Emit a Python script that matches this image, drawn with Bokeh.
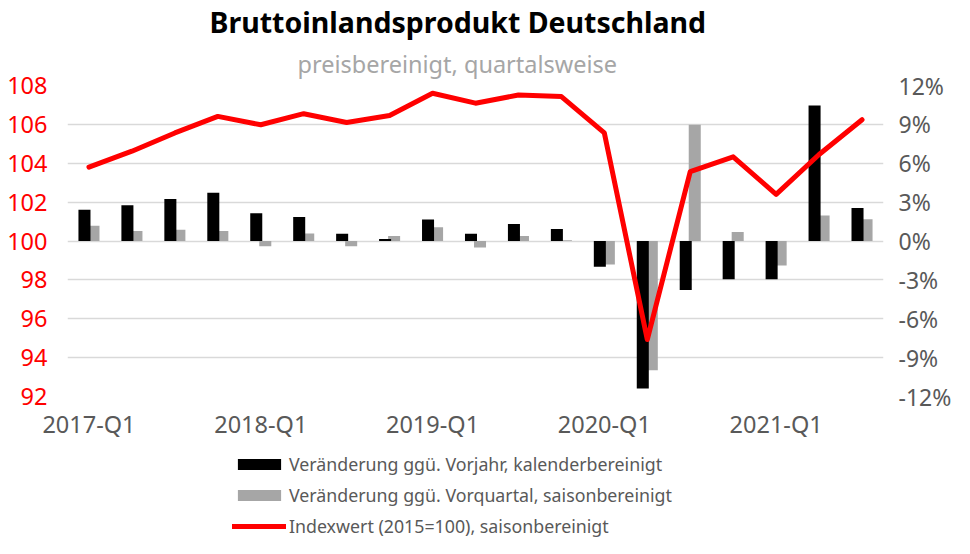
from bokeh.plotting import figure
from bokeh.layouts import column
from bokeh.models import (Range1d, LinearAxis, FixedTicker, PrintfTickFormatter, Legend,
                          LegendItem, Title, ColumnDataSource)
from bokeh.transform import dodge
from bokeh.embed import file_html
from bokeh.resources import INLINE

# ---- data ----
quarters = ["2017-Q1", "2017-Q2", "2017-Q3", "2017-Q4",
            "2018-Q1", "2018-Q2", "2018-Q3", "2018-Q4",
            "2019-Q1", "2019-Q2", "2019-Q3", "2019-Q4",
            "2020-Q1", "2020-Q2", "2020-Q3", "2020-Q4",
            "2021-Q1", "2021-Q2", "2021-Q3"]
index_vals = [103.8, 104.62, 105.56, 106.41, 105.98, 106.55, 106.1, 106.46,
              107.6, 107.09, 107.51, 107.43, 105.56, 94.93, 103.57, 104.33,
              102.4, 104.45, 106.24]
yoy_vals = [2.42, 2.75, 3.24, 3.72, 2.14, 1.86, 0.56, 0.15, 1.65, 0.56,
            1.32, 0.92, -1.99, -11.38, -3.78, -2.96, -2.96, 10.45, 2.55]
qoq_vals = [1.17, 0.77, 0.86, 0.77, -0.41, 0.58, -0.41, 0.38, 1.07, -0.51,
            0.38, 0.05, -1.81, -9.97, 8.97, 0.69, -1.89, 1.96, 1.68]
left_ticks = [92, 94, 96, 98, 100, 102, 104, 106, 108]
right_ticks = [-12, -9, -6, -3, 0, 3, 6, 9, 12]

title_text = "Bruttoinlandsprodukt Deutschland"
subtitle_text = "preisbereinigt, quartalsweise"
legend_labels = ["Veränderung ggü. Vorjahr, kalenderbereinigt",
                 "Veränderung ggü. Vorquartal, saisonbereinigt",
                 "Indexwert (2015=100), saisonbereinigt"]

FONT = "Noto Sans"
BLACK = "#000000"
GRAY = "#a6a6a6"
RED = "#ff0000"
TXT = "#595959"

n = len(quarters)
xs = list(range(n))
src = ColumnDataSource(dict(x=xs, q=quarters, idx=index_vals, yoy=yoy_vals, qoq=qoq_vals))

p = figure(width=954, height=450, x_range=Range1d(-0.5, n - 0.5),
           y_range=Range1d(left_ticks[0], left_ticks[-1]),
           output_backend="svg", toolbar_location=None, title=None,
           min_border_left=67, min_border_right=70, min_border_top=0, min_border_bottom=54)
p.extra_y_ranges = {"pct": Range1d(right_ticks[0], right_ticks[-1])}
p.outline_line_color = None
p.background_fill_color = "white"
p.border_fill_color = "white"

gray_r = p.vbar(x=dodge("x", 0.105), top="qoq", bottom=0, width=0.28, source=src,
                fill_color=GRAY, line_color=None, y_range_name="pct")
black_r = p.vbar(x=dodge("x", -0.105), top="yoy", bottom=0, width=0.28, source=src,
                 fill_color=BLACK, line_color=None, y_range_name="pct")
line_r = p.line("x", "idx", source=src, line_color=RED, line_width=5,
                line_join="round", line_cap="round")

# grids
p.xgrid.visible = False
p.ygrid.grid_line_color = "#d9d9d9"
p.ygrid.grid_line_width = 1.5

# x axis
q1_pos = [i for i, q in enumerate(quarters) if q.endswith("Q1")]
xa = p.xaxis[0]
xa.ticker = FixedTicker(ticks=q1_pos)
xa.major_label_overrides = {i: quarters[i] for i in q1_pos}
xa.axis_line_color = None
xa.major_tick_line_color = None
xa.minor_tick_line_color = None
xa.major_label_text_font = FONT
xa.major_label_text_font_size = "23.5px"
xa.major_label_text_color = TXT
xa.major_label_standoff = 5

# left axis
ya = p.yaxis[0]
ya.ticker = FixedTicker(ticks=left_ticks)
ya.axis_line_color = None
ya.major_tick_line_color = None
ya.minor_tick_line_color = None
ya.major_label_text_font = FONT
ya.major_label_text_font_size = "23.5px"
ya.major_label_text_color = RED
ya.major_label_standoff = 14

# right axis
ra = LinearAxis(y_range_name="pct", ticker=FixedTicker(ticks=right_ticks),
                formatter=PrintfTickFormatter(format="%d%%"))
ra.axis_line_color = None
ra.major_tick_line_color = None
ra.minor_tick_line_color = None
ra.major_label_text_font = FONT
ra.major_label_text_font_size = "23px"
ra.major_label_text_color = TXT
ra.major_label_standoff = 9
p.add_layout(ra, "right")

# subtitle (closest to plot), then title
p.add_layout(Title(text=subtitle_text, align="left", offset=230, text_font=FONT,
                   text_font_size="23.5px", text_font_style="normal",
                   text_color=GRAY, standoff=11), "above")
p.add_layout(Title(text=title_text, align="left", offset=142, text_font=FONT,
                   text_font_size="28.5px", text_font_style="bold",
                   text_color=BLACK, standoff=0), "above")

# ---- legend figure (legend swatches only; nothing is drawn in its view) ----
f2 = figure(width=954, height=88, x_range=Range1d(100, 101), y_range=Range1d(100, 101),
            output_backend="svg", toolbar_location=None, title=None,
            x_axis_location=None, y_axis_location=None, min_border=0)
f2.outline_line_color = None
f2.xgrid.visible = False
f2.ygrid.visible = False
lg_black = f2.vbar(x="x", top="yoy", width=0.1, source=src, fill_color=BLACK, line_color=None)
lg_gray = f2.vbar(x="x", top="qoq", width=0.1, source=src, fill_color=GRAY, line_color=None)
lg_line = f2.line(x="x", y="idx", source=src, line_color=RED, line_width=5, line_cap="round")

legend = Legend(items=[LegendItem(label=legend_labels[0], renderers=[lg_black]),
                       LegendItem(label=legend_labels[1], renderers=[lg_gray]),
                       LegendItem(label=legend_labels[2], renderers=[lg_line])],
                location=(165, 0), orientation="vertical",
                glyph_width=54, glyph_height=14, label_height=25, spacing=6,
                label_standoff=3, padding=0, margin=0,
                label_text_font=FONT, label_text_font_size="17.8px",
                label_text_color=TXT,
                border_line_color=None, background_fill_alpha=0)
f2.add_layout(legend)

layout = column(p, f2, spacing=0)
open("out.html", "w").write(file_html(layout, INLINE))
